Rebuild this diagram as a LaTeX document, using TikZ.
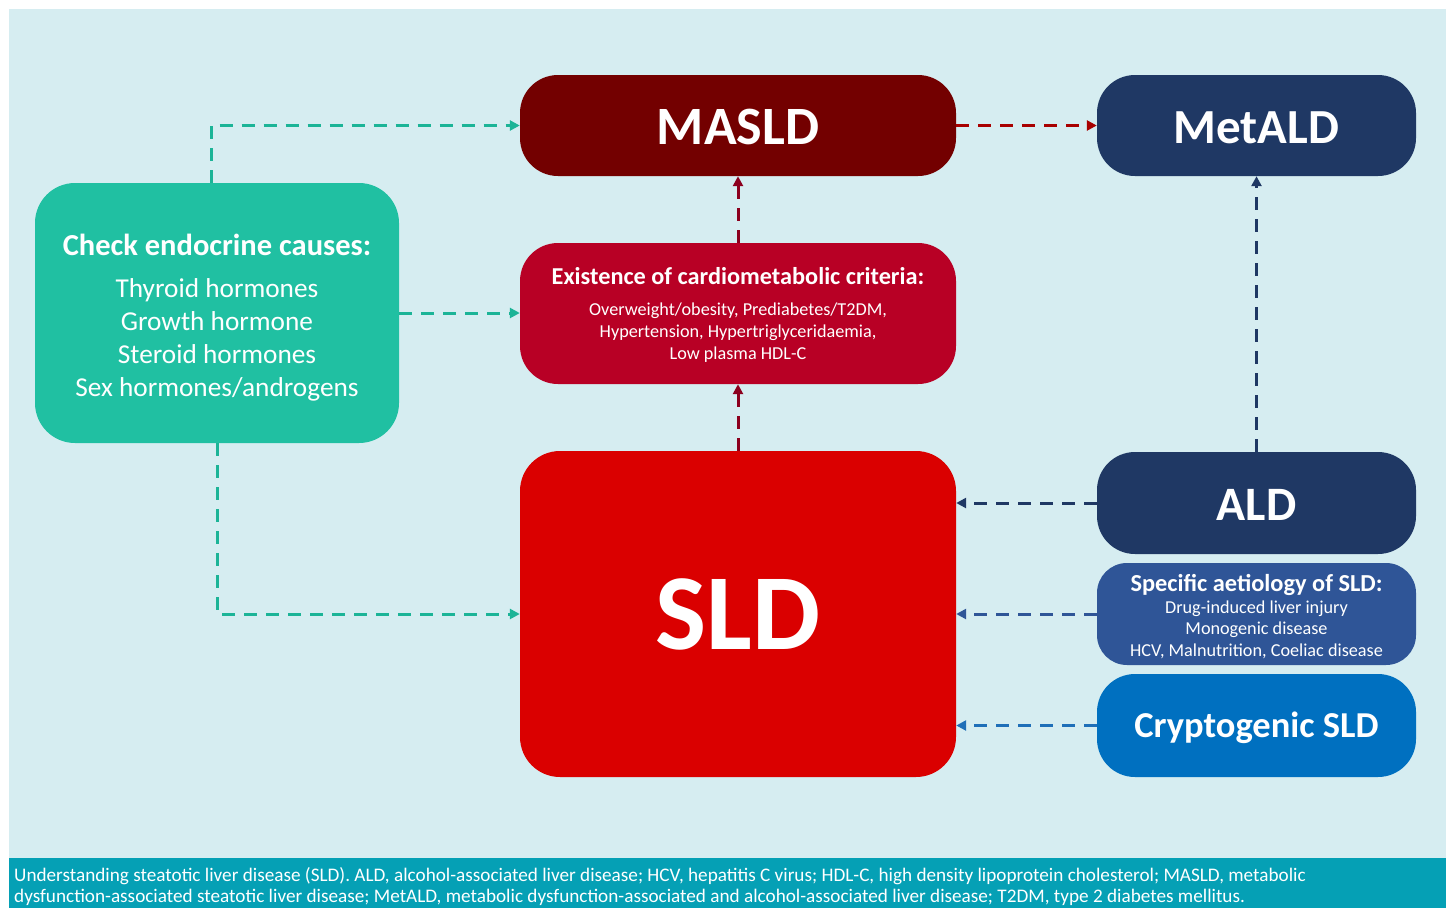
\documentclass[tikz,border=0pt]{standalone}
\usepackage{fontspec}
\setmainfont{Carlito}
\usetikzlibrary{arrows.meta,calc}
\definecolor{bgc}{HTML}{D6EDF1}
\definecolor{bandc}{HTML}{05A0B5}
\definecolor{maslc}{HTML}{730000}
\definecolor{navyc}{HTML}{1F3864}
\definecolor{endoc}{HTML}{20C0A2}
\definecolor{cardc}{HTML}{B80025}
\definecolor{sldc}{HTML}{DA0000}
\definecolor{specc}{HTML}{2F5597}
\definecolor{cryc}{HTML}{0070C0}
\definecolor{tealarr}{HTML}{1CB497}
\definecolor{redarr}{HTML}{A80000}
\definecolor{cardarr}{HTML}{8C001E}
\definecolor{cryarr}{HTML}{1F6FB8}
\tikzset{
  box/.style={rectangle, rounded corners=38pt, inner sep=0pt, text=white, align=center, draw=none},
  dasharr/.style={line width=3pt, dash pattern=on 13pt off 9pt, -{Triangle[length=10pt,width=10pt]}},
}
\begin{document}
\begin{tikzpicture}[x=1pt,y=-1pt]
\useasboundingbox (0,0) rectangle (1451,908);
\fill[white] (0,0) rectangle (1451,908);
\fill[bgc] (9,9) rectangle (1446,858);
\fill[bandc] (9,858) rectangle (1446,908);

\node[box, fill=maslc, minimum width=436pt, minimum height=101pt, font=\bfseries\fontsize{54}{60}\selectfont] (masld) at (738,125.5) {\rule{0pt}{39pt}MASLD};
\node[box, fill=navyc, minimum width=319pt, minimum height=101pt, font=\bfseries\fontsize{49}{60}\selectfont] (metald) at (1256.5,125.5) {\rule{0pt}{36pt}MetALD};
\node[box, fill=endoc, rounded corners=40pt, minimum width=364pt, minimum height=260pt, font=\fontsize{27.3}{33}\selectfont] (endo) at (217,313)
  {{\bfseries\fontsize{30.5}{33}\selectfont\rule{0pt}{30pt}Check endocrine causes:}\\[9pt]Thyroid hormones\\Growth hormone\\Steroid hormones\\Sex hormones/androgens};
\node[box, fill=cardc, minimum width=436pt, minimum height=141pt, font=\fontsize{18.2}{22}\selectfont] (cardio) at (738,313.5)
  {{\bfseries\fontsize{24.3}{26}\selectfont\rule{0pt}{20pt}Existence of cardiometabolic criteria:}\\[9pt]Overweight/obesity, Prediabetes/T2DM,\\Hypertension, Hypertriglyceridaemia,\\Low plasma HDL-C};
\node[box, fill=sldc, rounded corners=40pt, minimum width=436pt, minimum height=326pt, font=\bfseries\fontsize{108}{120}\selectfont] (sld) at (738,614) {SLD};
\node[box, fill=navyc, minimum width=319pt, minimum height=102pt, font=\bfseries\fontsize{48}{56}\selectfont] (ald) at (1256.5,503) {\rule{0pt}{35pt}ALD};
\node[box, fill=specc, rounded corners=30pt, minimum width=319pt, minimum height=102pt, font=\fontsize{18.2}{21.5}\selectfont] (spec) at (1256.5,614)
  {{\bfseries\fontsize{24.4}{25}\selectfont\rule{0pt}{22pt}Specific aetiology of SLD:}\\[0pt]Drug-induced liver injury\\Monogenic disease\\HCV, Malnutrition, Coeliac disease};
\node[box, fill=cryc, minimum width=319pt, minimum height=103pt, font=\bfseries\fontsize{36.5}{40}\selectfont] (crypt) at (1256.5,725.5) {\rule{0pt}{31pt}Cryptogenic SLD};

\node[anchor=north west, inner sep=0pt, text=white, align=left, font=\fontsize{19.2}{21}\selectfont] (cap) at (14,867)
  {Understanding steatotic liver disease (SLD). ALD, alcohol-associated liver disease; HCV, hepatitis C virus; HDL-C, high density lipoprotein cholesterol; MASLD, metabolic\\dysfunction-associated steatotic liver disease; MetALD, metabolic dysfunction-associated and alcohol-associated liver disease; T2DM, type 2 diabetes mellitus.};

\draw[dasharr, tealarr] ([xshift=-6pt]endo.north) |- (masld.west);
\draw[dasharr, tealarr] (endo.east) -- (endo.east -| cardio.west);
\draw[dasharr, tealarr] (endo.south) |- (sld.west);
\draw[dasharr, redarr] (masld.east) -- (metald.west);
\draw[dasharr, cardarr] (cardio.north) -- (masld.south);
\draw[dasharr, cardarr] (sld.north) -- (cardio.south);
\draw[dasharr, navyc] (ald.north) -- (metald.south);
\draw[dasharr, navyc] (ald.west) -- (ald.west -| sld.east);
\draw[dasharr, specc] (spec.west) -- (sld.east);
\draw[dasharr, cryarr] (crypt.west) -- (crypt.west -| sld.east);
\end{tikzpicture}
\end{document}
